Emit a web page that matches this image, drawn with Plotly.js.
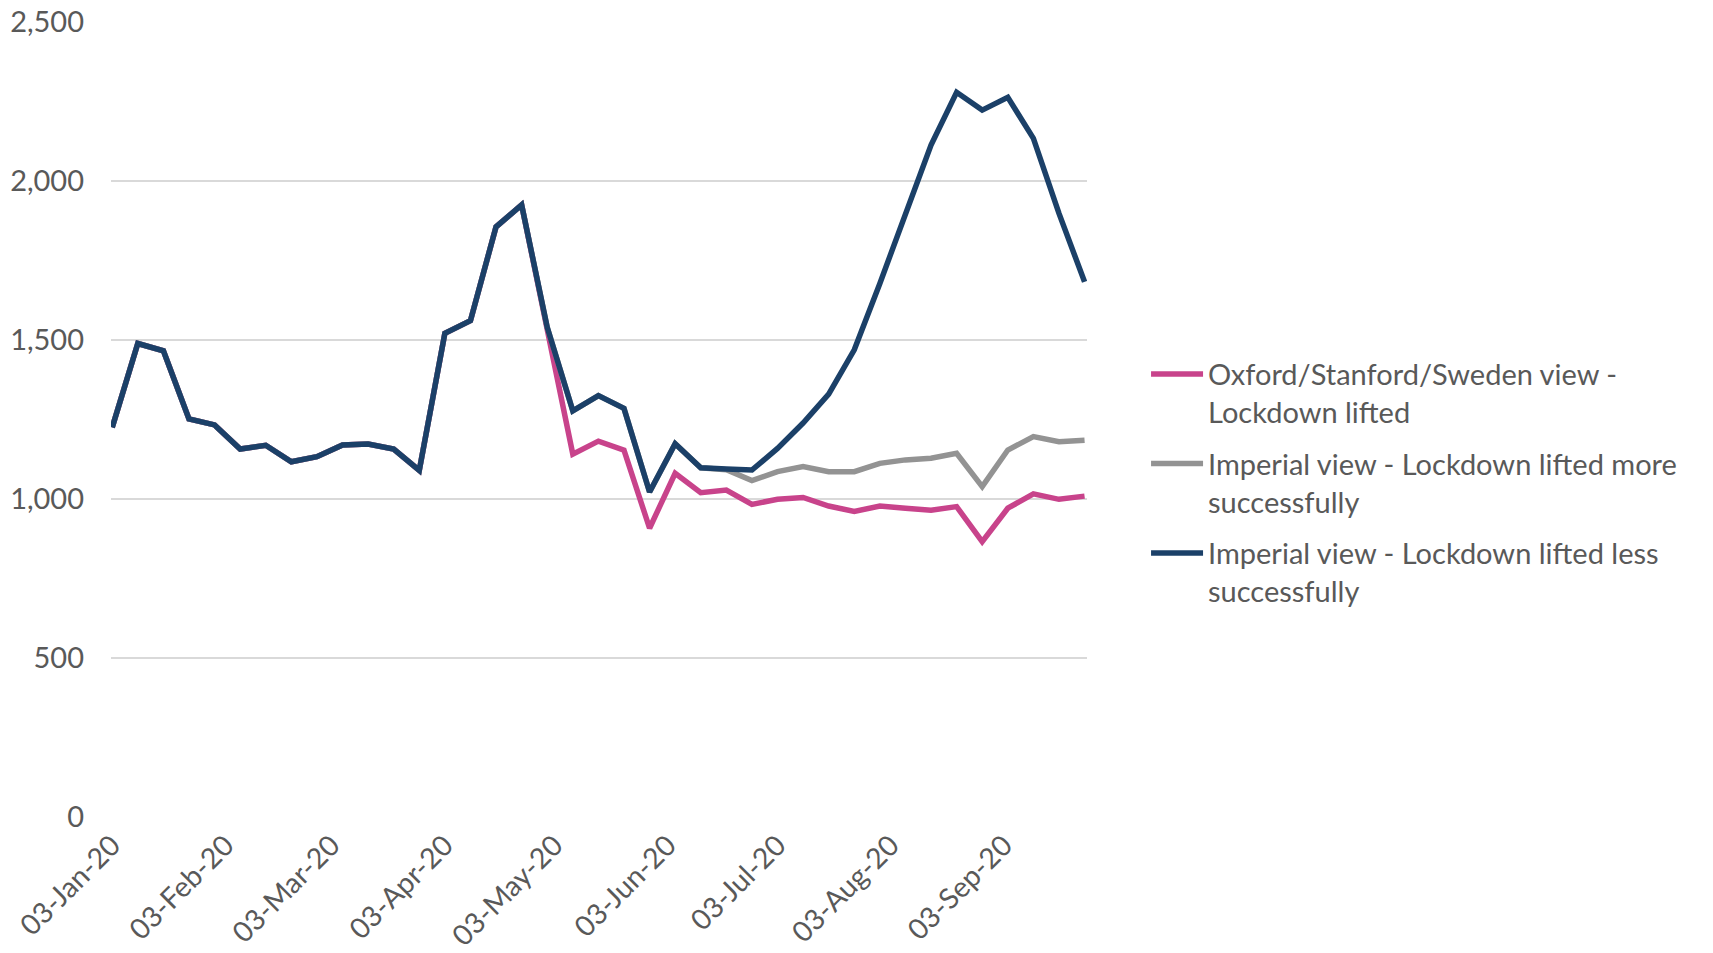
<!DOCTYPE html>
<html>
<head>
<meta charset="utf-8">
<script src="https://cdn.plot.ly/plotly-3.0.1.min.js"></script>
<style>
html, body { margin: 0; padding: 0; background: #ffffff; }
#chart { width: 1713px; height: 953px; }
</style>
</head>
<body>
<div id="chart"></div>
<script>
// Weekly dates
const dates = [
  '2020-01-03','2020-01-10','2020-01-17','2020-01-24','2020-01-31',
  '2020-02-07','2020-02-14','2020-02-21','2020-02-28',
  '2020-03-06','2020-03-13','2020-03-20','2020-03-27',
  '2020-04-03','2020-04-10','2020-04-17','2020-04-24',
  '2020-05-01','2020-05-08','2020-05-15','2020-05-22','2020-05-29',
  '2020-06-05','2020-06-12','2020-06-19','2020-06-26',
  '2020-07-03','2020-07-10','2020-07-17','2020-07-24','2020-07-31',
  '2020-08-07','2020-08-14','2020-08-21','2020-08-28',
  '2020-09-04','2020-09-11','2020-09-18','2020-09-25'
];

// Oxford/Stanford/Sweden view - Lockdown lifted
const oxfordValues = [
  1225, 1489, 1466, 1252, 1233, 1157, 1169, 1117, 1133, 1170, 1173, 1157, 1090,
  1521, 1561, 1856, 1925, 1540, 1141, 1182, 1154, 908, 1081, 1020, 1028, 983,
  999, 1005, 978, 961, 978, 971, 965, 976, 866, 971, 1016, 999, 1009
];

// Imperial view - Lockdown lifted more successfully
const imperialMoreValues = [
  1225, 1489, 1466, 1252, 1233, 1157, 1169, 1117, 1133, 1170, 1173, 1157, 1090,
  1521, 1561, 1856, 1925, 1540, 1277, 1325, 1285, 1022, 1174, 1098, 1092, 1058,
  1086, 1102, 1086, 1086, 1112, 1123, 1128, 1144, 1039, 1154, 1196, 1180, 1185
];

// Imperial view - Lockdown lifted less successfully
const imperialLessValues = [
  1225, 1489, 1466, 1252, 1233, 1157, 1169, 1117, 1133, 1170, 1173, 1157, 1090,
  1521, 1561, 1856, 1925, 1540, 1277, 1325, 1285, 1022, 1174, 1098, 1094, 1091,
  1159, 1239, 1330, 1469, 1678, 1898, 2113, 2279, 2223, 2263, 2134, 1898, 1683
];

const seriesNames = [
  'Oxford/Stanford/Sweden view -<br>Lockdown lifted',
  'Imperial view - Lockdown lifted more<br>successfully',
  'Imperial view - Lockdown lifted less<br>successfully'
];

const xTickVals = [
  '2020-01-03','2020-02-03','2020-03-03','2020-04-03','2020-05-03',
  '2020-06-03','2020-07-03','2020-08-03','2020-09-03'
];
const xTickText = [
  '03-Jan-20','03-Feb-20','03-Mar-20','03-Apr-20','03-May-20',
  '03-Jun-20','03-Jul-20','03-Aug-20','03-Sep-20'
];

const yTickVals = [0, 500, 1000, 1500, 2000, 2500];
const yTickText = ['0', '500', '1,000', '1,500', '2,000', '2,500'];

const colors = ['#C8438B', '#939393', '#1B4068'];
const seriesValues = [oxfordValues, imperialMoreValues, imperialLessValues];

const traces = seriesValues.map((vals, i) => ({
  type: 'scatter',
  mode: 'lines',
  x: dates,
  y: vals,
  name: seriesNames[i],
  legendgroup: 'g' + i,
  line: { color: colors[i], width: 5.5, shape: 'linear' },
  hoverinfo: 'skip'
}));

const textColor = '#595959';
const fontFamily = 'Lato, "Open Sans", sans-serif';
const fs = 29;

const layout = {
  width: 1713,
  height: 953,
  paper_bgcolor: '#ffffff',
  plot_bgcolor: '#ffffff',
  margin: { l: 111, r: 626, t: 22, b: 136, pad: 0 },
  font: { family: fontFamily, color: textColor, size: fs },
  showlegend: true,
  legend: {
    x: 1.0605,
    xanchor: 'left',
    y: 0.589,
    yanchor: 'top',
    valign: 'top',
    itemwidth: 52,
    tracegroupgap: 11,
    font: { family: fontFamily, size: fs, color: textColor },
    bgcolor: 'rgba(0,0,0,0)'
  },
  xaxis: {
    type: 'date',
    range: ['2020-01-02 16:00', '2020-09-25 16:00'],
    tickmode: 'array',
    tickvals: xTickVals,
    ticktext: xTickText,
    tickangle: -45,
    showgrid: false,
    zeroline: false,
    showline: false,
    ticks: '',
    ticklabelstandoff: 5,
    tickfont: { family: fontFamily, size: 28.5, color: textColor },
    fixedrange: true
  },
  yaxis: {
    range: [0, 2500],
    tickmode: 'array',
    tickvals: yTickVals,
    ticktext: yTickText,
    showgrid: true,
    gridcolor: '#D9D9D9',
    gridwidth: 1.5,
    zeroline: false,
    showline: false,
    ticks: '',
    ticklabelstandoff: 26,
    tickfont: { family: fontFamily, size: fs, color: textColor },
    fixedrange: true
  }
};

Plotly.newPlot('chart', traces, layout, { displayModeBar: false, staticPlot: true });
</script>
</body>
</html>
